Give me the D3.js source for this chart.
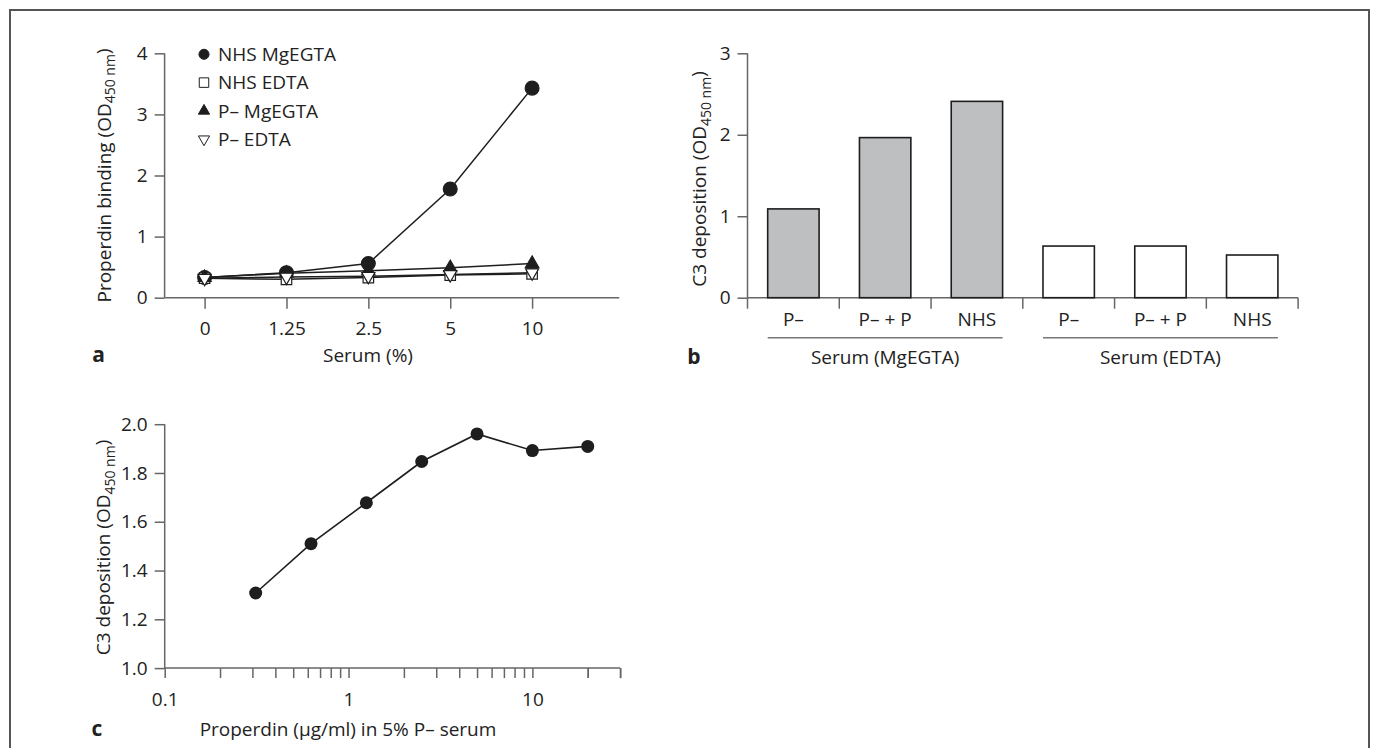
<!DOCTYPE html>
<html>
<head>
<meta charset="utf-8">
<script src="https://cdn.jsdelivr.net/npm/d3@7"></script>
<style>
    body { margin: 0; background: #fff; }
    svg text { font-family: "Open Sans", sans-serif; fill: #222; }
</style>
</head>
<body>
<svg id="figure" width="1376" height="748"></svg>
<script>
// Panel a data: properdin binding vs serum concentration
var serumLevels = ["0", "1.25", "2.5", "5", "10"];
var nhsMgEGTA = [0.33, 0.41, 0.56, 1.78, 3.43];
var nhsEDTA = [0.32, 0.30, 0.33, 0.37, 0.39];
var pMinusMgEGTA = [0.33, 0.40, 0.44, 0.49, 0.56];
var pMinusEDTA = [0.32, 0.34, 0.35, 0.38, 0.41];
var seriesNamesA = ["NHS MgEGTA", "NHS EDTA", "P\u2013 MgEGTA", "P\u2013 EDTA"];
var yTicksA = [0, 1, 2, 3, 4];

// Panel b data: C3 deposition per serum condition
var conditionsB = ["P\u2013", "P\u2013 + P", "NHS"];
var groupsB = ["Serum (MgEGTA)", "Serum (EDTA)"];
var valuesMgEGTA = [1.09, 1.965, 2.41];
var valuesEDTA = [0.634, 0.634, 0.524];
var yTicksB = [0, 1, 2, 3];

// Panel c data: C3 deposition vs properdin dose
var properdinDose = [0.3125, 0.625, 1.25, 2.5, 5, 10, 20];
var c3Deposition = [1.308, 1.51, 1.678, 1.847, 1.96, 1.892, 1.909];
var yTicksC = [1.0, 1.2, 1.4, 1.6, 1.8, 2.0];
var xLabelTicksC = [0.1, 1, 10];

var svg = d3.select("#figure");
var axisColor = "#666";
var inkColor = "#1e1e1e";
var fontSize = 19;

// Outer frame
svg.append("path")
    .attr("d", "M10,748 L10,10 L1369,10 L1369,748")
    .attr("fill", "none")
    .attr("stroke", "#555")
    .attr("stroke-width", 2);

var styleAxis = function (g) {
    g.select(".domain").remove();
    g.selectAll("line").attr("stroke", axisColor).attr("stroke-width", 1.5);
    g.selectAll("text").attr("font-size", fontSize).attr("fill", "#222");
};

var axisLine = function (x1, y1, x2, y2) {
    svg.append("line")
        .attr("x1", x1).attr("y1", y1).attr("x2", x2).attr("y2", y2)
        .attr("stroke", axisColor)
        .attr("stroke-width", 1.5);
};

// Rotated y label with subscript OD450 nm
var yLabel = function (x, y, prefix) {
    var t = svg.append("text")
        .attr("transform", "translate(" + x + "," + y + ") rotate(-90)")
        .attr("text-anchor", "middle")
        .attr("dy", "0.35em")
        .attr("font-size", fontSize);
    t.append("tspan").text(prefix + " (OD");
    t.append("tspan").attr("dy", "0.3em").attr("font-size", 14).text("450 nm");
    t.append("tspan").attr("dy", "-0.3em").text(")");
};

var panelLetter = function (x, y, letter) {
    svg.append("text")
        .attr("x", x).attr("y", y)
        .attr("dy", "0.35em")
        .attr("text-anchor", "middle")
        .attr("font-size", 21)
        .attr("font-weight", "bold")
        .text(letter);
};

// ---------------- Panel a ----------------
var xA = d3.scalePoint()
    .domain(serumLevels)
    .range([204.6, 532.1]);
var yA = d3.scaleLinear()
    .domain([0, 4])
    .range([297.7, 53.3]);
var axisLeftA = 164.6;

axisLine(axisLeftA, yA(4), axisLeftA, yA(0));
axisLine(axisLeftA, yA(0), 619.3, yA(0));

svg.append("g")
    .attr("transform", "translate(" + axisLeftA + ",0)")
    .call(d3.axisLeft(yA).tickValues(yTicksA).tickFormat(d3.format("d")).tickSize(10).tickPadding(7))
    .call(styleAxis);

svg.append("g")
    .attr("transform", "translate(0," + yA(0) + ")")
    .call(d3.axisBottom(xA).tickSize(11).tickSizeOuter(0))
    .call(styleAxis)
    .call(g => g.selectAll("text").attr("y", 30.6).attr("dy", "0.35em"));

var seriesA = [
    { name: seriesNamesA[0], values: nhsMgEGTA, symbol: d3.symbolCircle, fill: inkColor, size: 150 },
    { name: seriesNamesA[1], values: nhsEDTA, symbol: d3.symbolSquare, fill: "#fff", size: 110 },
    { name: seriesNamesA[2], values: pMinusMgEGTA, symbol: d3.symbolTriangle, fill: inkColor, size: 75 },
    { name: seriesNamesA[3], values: pMinusEDTA, symbol: d3.symbolTriangle, fill: "#fff", size: 75, flip: true }
];

var lineA = d3.line()
    .x((d, i) => xA(serumLevels[i]))
    .y(d => yA(d));

svg.selectAll("path.series-a")
    .data(seriesA)
    .enter()
    .append("path")
    .attr("class", "series-a")
    .attr("d", d => lineA(d.values))
    .attr("fill", "none")
    .attr("stroke", inkColor)
    .attr("stroke-width", 1.5);

seriesA.forEach(function (s) {
    svg.selectAll(null)
        .data(s.values)
        .enter()
        .append("path")
        .attr("d", d3.symbol().type(s.symbol).size(s.size))
        .attr("transform", (d, i) => "translate(" + xA(serumLevels[i]) + "," + yA(d) + ")" + (s.flip ? " rotate(180)" : ""))
        .attr("fill", s.fill)
        .attr("stroke", inkColor)
        .attr("stroke-width", 1.2);
});

// Legend
var legendA = svg.selectAll("g.legend-a")
    .data(seriesA)
    .enter()
    .append("g")
    .attr("class", "legend-a")
    .attr("transform", (d, i) => "translate(204," + (54.3 + i * 28.3) + ")");

legendA.append("path")
    .attr("d", d => d3.symbol().type(d.symbol).size(d.symbol === d3.symbolCircle ? 80 : (d.symbol === d3.symbolSquare ? 90 : 55))())
    .attr("transform", d => d.flip ? "rotate(180)" : null)
    .attr("fill", d => d.fill)
    .attr("stroke", inkColor)
    .attr("stroke-width", 1);

legendA.append("text")
    .attr("x", 14)
    .attr("dy", "0.35em")
    .attr("font-size", fontSize)
    .text(d => d.name);

yLabel(104.6, 175.5, "Properdin binding");

svg.append("text")
    .attr("x", 368).attr("y", 355)
    .attr("dy", "0.35em")
    .attr("text-anchor", "middle")
    .attr("font-size", fontSize)
    .text("Serum (%)");

panelLetter(98.6, 355, "a");

// ---------------- Panel b ----------------
var barData = [];
groupsB.forEach(function (g, gi) {
    var vals = gi === 0 ? valuesMgEGTA : valuesEDTA;
    conditionsB.forEach(function (c, ci) {
        barData.push({ id: gi + "-" + ci, group: g, groupIndex: gi, label: c, value: vals[ci] });
    });
});

var xB = d3.scaleBand()
    .domain(barData.map(d => d.id))
    .range([747.5, 1298.1])
    .paddingInner(0.44)
    .paddingOuter(0.22);
var yB = d3.scaleLinear()
    .domain([0, 3])
    .range([297.7, 53.3]);
var axisLeftB = xB.range()[0];

axisLine(axisLeftB, yB(3), axisLeftB, yB(0));
axisLine(axisLeftB, yB(0), xB.range()[1], yB(0));

svg.append("g")
    .attr("transform", "translate(" + axisLeftB + ",0)")
    .call(d3.axisLeft(yB).tickValues(yTicksB).tickFormat(d3.format("d")).tickSize(10).tickPadding(7))
    .call(styleAxis);

// Tick marks on the band boundaries
svg.selectAll("line.b-tick")
    .data(d3.range(barData.length + 1))
    .enter()
    .append("line")
    .attr("class", "b-tick")
    .attr("x1", i => xB.range()[0] + i * xB.step())
    .attr("x2", i => xB.range()[0] + i * xB.step())
    .attr("y1", yB(0))
    .attr("y2", yB(0) + 11)
    .attr("stroke", axisColor)
    .attr("stroke-width", 1.5);

svg.selectAll("rect.bar")
    .data(barData)
    .enter()
    .append("rect")
    .attr("class", "bar")
    .attr("x", d => xB(d.id))
    .attr("y", d => yB(d.value))
    .attr("width", xB.bandwidth())
    .attr("height", d => yB(0) - yB(d.value))
    .attr("fill", d => d.groupIndex === 0 ? "#bebfc1" : "#fff")
    .attr("stroke", inkColor)
    .attr("stroke-width", 1.6);

svg.selectAll("text.bar-label")
    .data(barData)
    .enter()
    .append("text")
    .attr("class", "bar-label")
    .attr("x", d => xB(d.id) + xB.bandwidth() / 2)
    .attr("y", 319)
    .attr("dy", "0.35em")
    .attr("text-anchor", "middle")
    .attr("font-size", fontSize)
    .text(d => d.label);

var groupSpans = groupsB.map(function (g, gi) {
    var ids = barData.filter(d => d.groupIndex === gi).map(d => d.id);
    return { name: g, x0: xB(ids[0]), x1: xB(ids[ids.length - 1]) + xB.bandwidth() };
});

svg.selectAll("line.group-rule")
    .data(groupSpans)
    .enter()
    .append("line")
    .attr("class", "group-rule")
    .attr("x1", d => d.x0)
    .attr("x2", d => d.x1)
    .attr("y1", 337.7)
    .attr("y2", 337.7)
    .attr("stroke", "#777")
    .attr("stroke-width", 1.5);

svg.selectAll("text.group-label")
    .data(groupSpans)
    .enter()
    .append("text")
    .attr("class", "group-label")
    .attr("x", d => (d.x0 + d.x1) / 2)
    .attr("y", 357)
    .attr("dy", "0.35em")
    .attr("text-anchor", "middle")
    .attr("font-size", fontSize)
    .text(d => d.name);

yLabel(699.8, 179, "C3 deposition");
panelLetter(694, 357, "b");

// ---------------- Panel c ----------------
var xC = d3.scaleLog()
    .domain([0.1, 30])
    .range([164.7, 620.1]);
var yC = d3.scaleLinear()
    .domain([1.0, 2.0])
    .range([668.1, 424.2]);
var axisLeftC = xC.range()[0];

axisLine(axisLeftC, yC(2.0), axisLeftC, yC(1.0));
axisLine(axisLeftC, yC(1.0), xC.range()[1], yC(1.0));

svg.append("g")
    .attr("transform", "translate(" + axisLeftC + ",0)")
    .call(d3.axisLeft(yC).tickValues(yTicksC).tickFormat(d3.format(".1f")).tickSize(10).tickPadding(7))
    .call(styleAxis);

svg.append("g")
    .attr("transform", "translate(0," + yC(1.0) + ")")
    .call(d3.axisBottom(xC)
        .tickValues(xC.ticks().concat([20, 30]))
        .tickFormat(d => xLabelTicksC.indexOf(d) >= 0 ? String(d) : "")
        .tickSize(10)
        .tickSizeOuter(0))
    .call(styleAxis)
    .call(g => g.selectAll("text").attr("y", 31).attr("dy", "0.35em"));

svg.append("path")
    .datum(properdinDose)
    .attr("d", d3.line().x(d => xC(d)).y((d, i) => yC(c3Deposition[i])))
    .attr("fill", "none")
    .attr("stroke", inkColor)
    .attr("stroke-width", 1.6);

svg.selectAll("circle.dose")
    .data(properdinDose)
    .enter()
    .append("circle")
    .attr("class", "dose")
    .attr("cx", d => xC(d))
    .attr("cy", (d, i) => yC(c3Deposition[i]))
    .attr("r", 6.5)
    .attr("fill", inkColor);

yLabel(103.7, 547.5, "C3 deposition");

svg.append("text")
    .attr("x", 348).attr("y", 729)
    .attr("dy", "0.35em")
    .attr("text-anchor", "middle")
    .attr("font-size", fontSize)
    .text("Properdin (\u00b5g/ml) in 5% P\u2013 serum");

panelLetter(97, 729, "c");
</script>
</body>
</html>
